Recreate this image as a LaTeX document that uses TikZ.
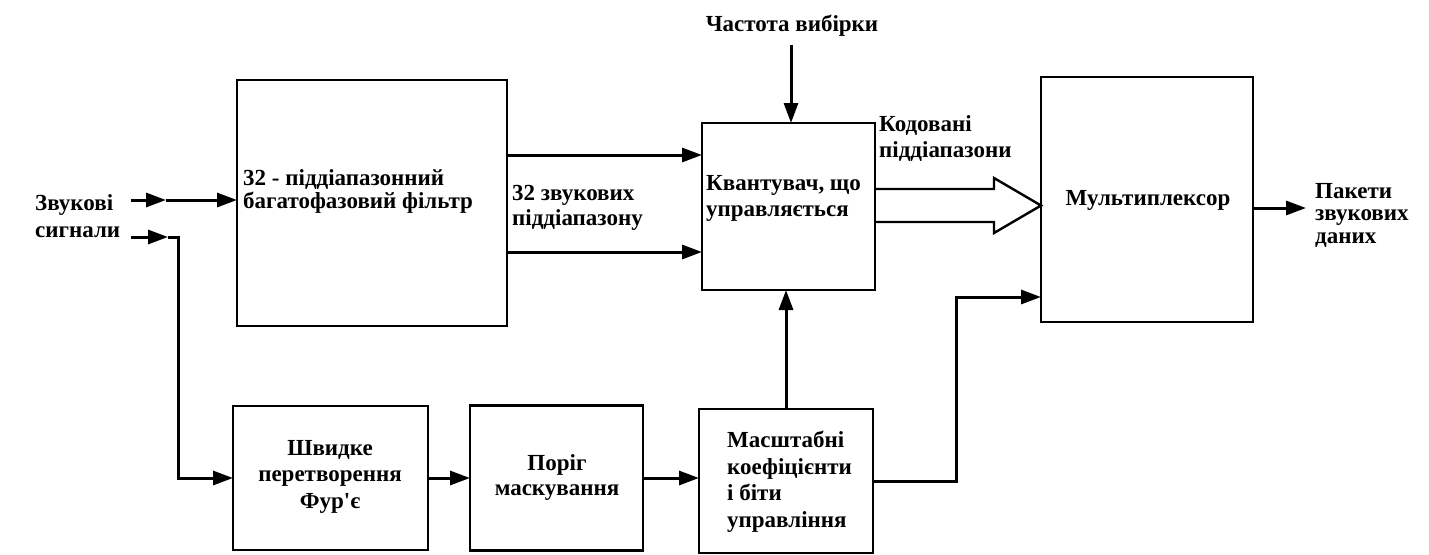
\documentclass[tikz,border=0pt]{standalone}
\usepackage{fontspec}
\setmainfont{Liberation Serif}
\usetikzlibrary{arrows.meta,calc}
\begin{document}
\begin{tikzpicture}[x=1pt,y=-1pt,
  box/.style={draw, line width=2.2pt, inner sep=0pt, outer sep=0pt},
  arr/.style={line width=3pt, -{Triangle[length=20pt,width=14pt]}},
  lbl/.style={font=\fontsize{23}{#1}\selectfont\bfseries, inner sep=0pt, align=left},
  lbl/.default=25,
  clbl/.style={lbl=#1, align=center},
  clbl/.default=25]
\useasboundingbox (0,0) rectangle (1429,554);
% boxes
\node[box, minimum width=270pt, minimum height=246pt] (filter) at (372,203) {};
\node[box, minimum width=173pt, minimum height=167pt] (quant) at (788.5,206.5) {};
\node[box, minimum width=212pt, minimum height=245pt] (mux) at (1147,199.5) {};
\node[box, minimum width=195pt, minimum height=144pt] (fft) at (330.5,478) {};
\node[box, minimum width=173pt, minimum height=145pt] (porig) at (556.5,478) {};
\node[box, minimum width=174pt, minimum height=144pt] (masht) at (786,481) {};
% labels (anchored at the baseline of the last line)
\node[lbl=27, anchor=base west] (lsrc) at (35,237) {Звукові\\сигнали};
\node[lbl=23, anchor=base west] (lfilter) at (243,208) {32 - піддіапазонний\\багатофазовий фільтр};
\node[lbl=25, anchor=base west] (lsub) at (512,225) {32 звукових\\піддіапазону};
\node[lbl=26, anchor=base west] (lquant) at (706,216) {Квантувач, що\\управляється};
\node[lbl=26, anchor=base west] (lcoded) at (879,157) {Кодовані\\піддіапазони};
\node[lbl, anchor=base] (lfreq) at (792,31) {Частота вибірки};
\node[lbl, anchor=base] (lmux) at (1148,205) {Мультиплексор};
\node[lbl=22.5, anchor=base west] (lout) at (1315,243) {Пакети\\звукових\\даних};
\node[clbl=26.5, anchor=base] (lfft) at (330,508) {Швидке\\перетворення\\Фур\textquotesingle є};
\node[clbl=25, anchor=base] (lporig) at (557,495) {Поріг\\маскування};
\node[lbl=26.5, anchor=base west] (lmasht) at (727,527) {Масштабні\\коефіцієнти\\і біти\\управління};
% free ends
\coordinate (in1) at (131,200);
\coordinate (in1m) at (166,200);
\coordinate (in2) at (131,237);
\coordinate (in2m) at (168,237);
\coordinate (in2c) at (178,237);
\coordinate (freq) at (791,45);
\coordinate (outEnd) at (1306,208);
\coordinate (mjog) at (956,297);
% connectors
\draw[arr] (in1) -- (in1m);
\draw[arr] (in1m) -- (in1m -| filter.west);
\draw[arr] (in2) -- (in2m);
\draw[arr] (in2m) -- (in2c) |- (fft.west);
\draw[arr] (filter.east |- 0,155) -- (quant.west |- 0,155);
\draw[arr] (filter.east |- 0,252) -- (quant.west |- 0,252);
\draw[arr] (freq) -- (freq |- quant.north);
\draw[arr] (masht.north) -- (masht.north |- quant.south);
\draw[arr] (fft.east) -- (porig.west);
\draw[arr] (porig.east) -- (porig.east -| masht.west);
\draw[arr] (masht.east) -| (mjog) -- (mjog -| mux.west);
\draw[arr] (outEnd -| mux.east) -- (outEnd);
% wide arrow
\draw[line width=2.4pt, line join=miter] (quant.east |- 0,189) -- (994,189) -- (994,178) -- (mux.west |- 0,205.5) -- (994,233) -- (994,222) -- (quant.east |- 0,222);
\end{tikzpicture}
\end{document}
